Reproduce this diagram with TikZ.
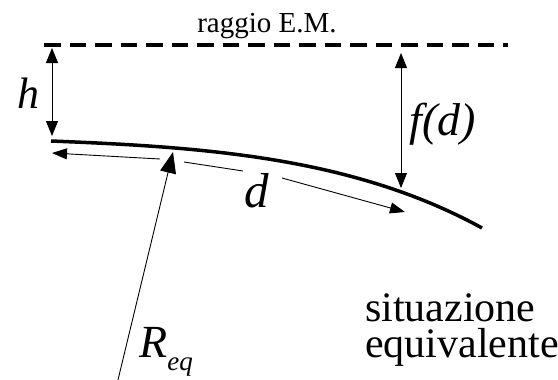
\documentclass[tikz,border=0pt]{standalone}
\usepackage{fontspec}
\setmainfont{Liberation Serif}
\usetikzlibrary{arrows.meta}
\newcommand{\fsz}[1]{\fontsize{#1}{#1}\selectfont}
\tikzset{
  quota/.style={{Triangle[length=15pt,width=12pt]}-{Triangle[length=15pt,width=12pt]},black,line width=0.9pt},
  dfreccia/.style={-{Triangle[length=15pt,width=11pt]},black,line width=0.9pt},
  rfreccia/.style={-{Triangle[length=21pt,width=16pt]},black,line width=0.9pt},
  terra/.style={black,line width=3.5pt},
  raggio/.style={black,line width=3.3pt,dash pattern=on 16.5pt off 9pt},
  etic/.style={inner sep=0pt,anchor=base},
}

\begin{document}
\begin{tikzpicture}[x=1pt,y=-1pt]
  \useasboundingbox (0,0) rectangle (558,380);
  % raggio E.M.
  \draw[raggio] (44,45)--(508,45);
  \node[etic,font=\fsz{29}] (em) at (267,32) {raggio E.M.};
  % superficie equivalente
  \draw[terra] (51,141) .. controls (201,147) and (352,156.5) .. (482,228);
  % altezza h
  \coordinate (hsu) at (52,48);
  \coordinate (hgiu) at (52,136);
  \draw[quota] (hsu)--(hgiu);
  \node[etic,font=\fsz{44}\itshape] (h) at (28,108) {h};
  % f(d)
  \coordinate (fsu) at (401,53);
  \coordinate (fgiu) at (401,188);
  \draw[quota] (fsu)--(fgiu);
  \node[etic,font=\fsz{46}\itshape] (fd) at (443,135) {f(d)};
  % distanza d
  \coordinate (d1) at (160,159);
  \coordinate (d0) at (52,153);
  \coordinate (d2) at (184,162);
  \coordinate (d3) at (243,171);
  \coordinate (d4) at (282,178);
  \coordinate (d5) at (405,212);
  \draw[dfreccia] (d1)--(d0);
  \draw[black,line width=0.9pt] (d2)--(d3);
  \draw[dfreccia] (d4)--(d5);
  \node[etic,font=\fsz{49}\itshape] (d) at (257,207) {d};
  % raggio equivalente
  \coordinate (rc) at (117,384);
  \coordinate (rp) at (173,152);
  \draw[rfreccia] (rc)--(rp);
  \node[etic,anchor=base west,font=\fsz{46}\itshape] (req) at (139,357)
    {R\raisebox{-13pt}{\fsz{27}eq}};
  % didascalia
  \node[inner sep=0pt,anchor=north west,align=left,
    font=\fontsize{42}{36}\selectfont] (sit) at (365,293.5) {situazione\\equivalente};
\end{tikzpicture}
\end{document}
